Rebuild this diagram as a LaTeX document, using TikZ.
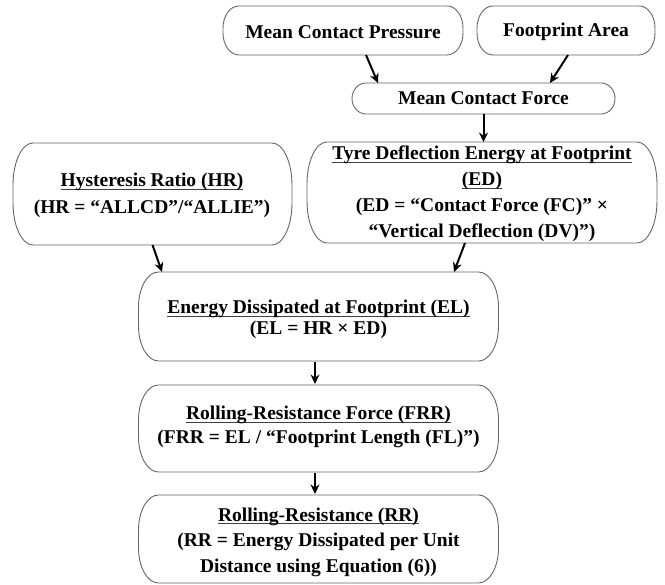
\documentclass[tikz,border=0pt]{standalone}
\usepackage{fontspec}
\setmainfont{Liberation Serif}
\usetikzlibrary{arrows.meta}
\newcommand\myul[1]{\setbox0\hbox{#1}\leavevmode\rlap{\color{black!75}\rule[-3.2pt]{\wd0}{1pt}}\box0}
\newcommand\drawebox[3]{%
  \draw[boxline] ([xshift=#2]#1.north west) -- ([xshift=-#2]#1.north east)
    arc[start angle=90,end angle=0,x radius=#2,y radius=#3]
    -- ([yshift=#3]#1.south east)
    arc[start angle=0,end angle=-90,x radius=#2,y radius=#3]
    -- ([xshift=#2]#1.south west)
    arc[start angle=270,end angle=180,x radius=#2,y radius=#3]
    -- ([yshift=-#3]#1.north west)
    arc[start angle=180,end angle=90,x radius=#2,y radius=#3] -- cycle;}
\tikzset{
  boxline/.style={draw=black!60, line width=0.9pt},
  bx/.style={draw=none, inner sep=0pt, outer sep=0pt},
  txt/.style={font=\bfseries\fontsize{19.5}{#1}\selectfont, align=center, inner sep=0pt, outer sep=0pt},
  txt/.default=26,
  arr/.style={draw=black, line width=2pt, -{Stealth[length=9.5pt,width=9pt]}},
}
\begin{document}
\begin{tikzpicture}[x=1pt,y=1pt]
\useasboundingbox (0,0) rectangle (665,585);
% boxes
\node[bx, minimum width=240pt, minimum height=49pt] (mcp) at (343,554.5) {};
\node[bx, minimum width=178pt, minimum height=49pt] (fa) at (566,554.5) {};
\node[bx, minimum width=263pt, minimum height=31pt] (mcf) at (483.5,486.5) {};
\node[bx, minimum width=279pt, minimum height=102pt] (hr) at (152.5,391) {};
\node[bx, minimum width=350pt, minimum height=101pt] (ed) at (482,392.5) {};
\node[bx, minimum width=360pt, minimum height=89pt] (el) at (318.5,268.5) {};
\node[bx, minimum width=360pt, minimum height=87pt] (frr) at (318.5,156.5) {};
\node[bx, minimum width=360pt, minimum height=88pt] (rr) at (318.5,46) {};
\drawebox{mcp}{16pt}{22pt}
\drawebox{fa}{16pt}{22pt}
\drawebox{mcf}{14pt}{15.5pt}
\drawebox{hr}{20pt}{42pt}
\drawebox{ed}{20pt}{42pt}
\drawebox{el}{20pt}{35pt}
\drawebox{frr}{20pt}{35pt}
\drawebox{rr}{20pt}{35pt}
% texts
\node[txt] (mcpt) at (343,553) {Mean Contact Pressure};
\node[txt] (fat) at (566,553) {Footprint Area};
\node[txt] (mcft) at (483.5,487) {Mean Contact Force};
\node[txt=27] (hrt) at (152,389.5) {\myul{Hysteresis Ratio (HR)}\\(HR = “ALLCD”/“ALLIE”)};
\node[txt=26] (edt) at (482,391) {\myul{Tyre Deflection Energy at Footprint}\\\myul{(ED)}\\(ED = “Contact Force (FC)” ×\\“Vertical Deflection (DV)”)};
\node[txt=21] (elt) at (318.5,265.5) {\myul{Energy Dissipated at Footprint (EL)}\\(EL = HR × ED)};
\node[txt=24] (frrt) at (318.5,158) {\myul{Rolling-Resistance Force (FRR)}\\(FRR = EL / “Footprint Length (FL)”)};
\node[txt=25.5] (rrt) at (318.5,43) {\myul{Rolling-Resistance (RR)}\\(RR = Energy Dissipated per Unit\\Distance using Equation (6))};
% connectors
\draw[arr] ([xshift=23pt]mcp.south) -- ([xshift=-105.5pt]mcf.north);
\draw[arr] ([xshift=2pt]fa.south) -- ([xshift=66.5pt]mcf.north);
\draw[arr] (mcf.south) -- (mcf.south |- ed.north);
\draw[arr] (hr.south) -- ([xshift=-156.5pt]el.north);
\draw[arr] ([xshift=-17pt]ed.south) -- ([xshift=135.5pt]el.north);
\draw[arr] ([xshift=-3.5pt,yshift=-1pt]el.south) -- ([xshift=-3.5pt,yshift=1pt]frr.north);
\draw[arr] ([xshift=-3.5pt,yshift=-1pt]frr.south) -- ([xshift=-3.5pt,yshift=1pt]rr.north);
\end{tikzpicture}
\end{document}
